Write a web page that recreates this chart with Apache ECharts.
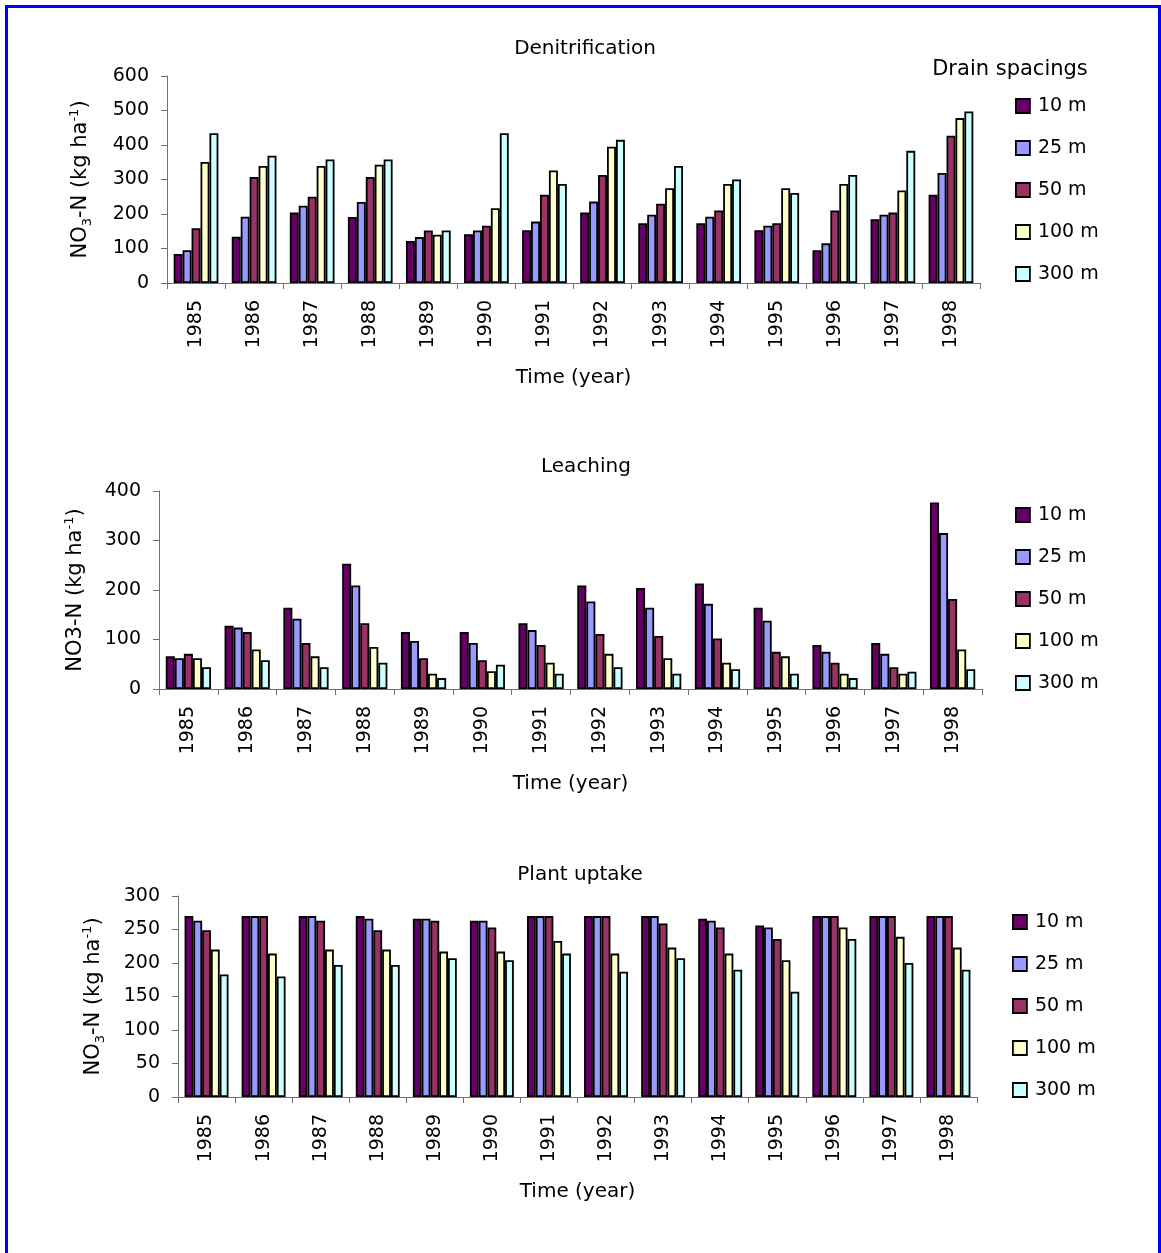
<!DOCTYPE html>
<html>
<head>
<meta charset="utf-8">
<title>Nitrate balance by drain spacing</title>
<script src="https://cdn.jsdelivr.net/npm/echarts@6/dist/echarts.min.js"></script>
<style>
  html, body { margin: 0; padding: 0; background: #fff; }
  #chart { width: 1161px; height: 1253px; }
</style>
</head>
<body>
<div id="chart"></div>
<script>
// Years on the category axis
const years = ['1985', '1986', '1987', '1988', '1989', '1990', '1991',
               '1992', '1993', '1994', '1995', '1996', '1997', '1998'];
// Drain spacings (one series per spacing)
const spacings = ['10 m', '25 m', '50 m', '100 m', '300 m'];
const spacingColors = ['#660066', '#9999FF', '#993366', '#FFFFCC', '#CCFFFF'];

// Denitrification, kg NO3-N per ha
const denit10  = [84, 134, 204, 191, 122, 141, 153, 204, 173, 173, 153, 95, 185, 256];
const denit25  = [95, 192, 224, 235, 133, 152, 178, 236, 198, 192, 166, 115, 198, 319];
const denit50  = [159, 307, 250, 307, 152, 166, 256, 313, 230, 210, 173, 210, 204, 427];
const denit100 = [351, 339, 339, 343, 140, 217, 326, 395, 275, 287, 275, 287, 268, 478];
const denit300 = [434, 369, 358, 358, 152, 434, 287, 415, 339, 300, 261, 313, 383, 497];

// Leaching, kg NO3-N per ha
const leach10  = [66, 128, 164, 253, 115, 115, 133, 209, 204, 213, 164, 89, 93, 377];
const leach25  = [62, 124, 142, 209, 97, 93, 119, 177, 164, 172, 138, 75, 71, 315];
const leach50  = [71, 115, 93, 133, 62, 58, 89, 111, 107, 102, 75, 53, 44, 182];
const leach100 = [62, 80, 66, 85, 31, 36, 53, 71, 62, 53, 66, 31, 31, 80];
const leach300 = [44, 58, 44, 53, 22, 49, 31, 44, 31, 40, 31, 22, 35, 40];

// Plant uptake, kg NO3-N per ha
const uptake10  = [270, 270, 270, 270, 266, 263, 270, 270, 270, 266, 256, 270, 270, 270];
const uptake25  = [263, 270, 270, 266, 266, 263, 270, 270, 270, 263, 253, 270, 270, 270];
const uptake50  = [249, 270, 263, 249, 263, 253, 270, 270, 259, 253, 236, 270, 270, 270];
const uptake100 = [220, 214, 220, 220, 217, 217, 233, 214, 223, 214, 204, 253, 239, 223];
const uptake300 = [183, 180, 197, 197, 207, 204, 214, 187, 207, 190, 157, 236, 200, 190];

// Y-axis ranges
const denitAxis  = { max: 600, step: 100 };
const leachAxis  = { max: 400, step: 100 };
const uptakeAxis = { max: 300, step: 50 };

const FONT = 'DejaVu Sans';
const AXIS_COLOR = '#707070';

const panels = [
  {
    title: 'Denitrification', titleX: 585, titleY: 39,
    grid: { left: 167, top: 76, right: 181, height: 207 },
    axis: denitAxis, yName: '{n|NO}{sub|3}{n|-N (kg ha}{sup|-1}{n|)}', yGap: 73,
    legendLeft: 1015, legendTop: 92,
    values: [denit10, denit25, denit50, denit100, denit300]
  },
  {
    title: 'Leaching', titleX: 586, titleY: 457,
    grid: { left: 159, top: 491, right: 179, height: 198 },
    axis: leachAxis, yName: '{n|NO3-N (kg ha}{sup|-1}{n|)}', yGap: 70,
    legendLeft: 1015, legendTop: 501,
    values: [leach10, leach25, leach50, leach100, leach300]
  },
  {
    title: 'Plant uptake', titleX: 580, titleY: 865,
    grid: { left: 178, top: 896, right: 184, height: 201 },
    axis: uptakeAxis, yName: '{n|NO}{sub|3}{n|-N (kg ha}{sup|-1}{n|)}', yGap: 71,
    legendLeft: 1012, legendTop: 908,
    values: [uptake10, uptake25, uptake50, uptake100, uptake300]
  }
];

const nameRich = {
  n:   { fontFamily: FONT, fontSize: 21, color: '#000', lineHeight: 26 },
  sub: { fontFamily: FONT, fontSize: 13, color: '#000', lineHeight: 26, verticalAlign: 'bottom', padding: [8, 0, 0, 0] },
  sup: { fontFamily: FONT, fontSize: 13, color: '#000', lineHeight: 26, verticalAlign: 'top', padding: [0, 0, 8, 0] }
};

const option = {
  backgroundColor: '#fff',
  animation: false,
  textStyle: { fontFamily: FONT },
  title: panels.map(p => ({
    text: p.title, left: p.titleX, top: p.titleY, textAlign: 'center', padding: 0,
    textStyle: { fontFamily: FONT, fontSize: 20, fontWeight: 'normal', color: '#000' }
  })).concat([{
    text: 'Drain spacings', left: 1010, top: 59, textAlign: 'center', padding: 0,
    textStyle: { fontFamily: FONT, fontSize: 21, fontWeight: 'normal', color: '#000' }
  }]),
  legend: panels.map(p => ({
    data: spacings, orient: 'vertical', left: p.legendLeft, top: p.legendTop,
    padding: 0, itemGap: 14, itemWidth: 14, itemHeight: 14, icon: 'rect',
    selectedMode: false,
    itemStyle: { borderColor: '#000', borderWidth: 1.8 },
    textStyle: { fontFamily: FONT, fontSize: 19, color: '#000', lineHeight: 20, padding: [0, 0, 8, 3] }
  })),
  grid: panels.map(p => Object.assign({ containLabel: false }, p.grid)),
  xAxis: panels.map((p, i) => ({
    type: 'category', gridIndex: i, data: years,
    name: 'Time (year)', nameLocation: 'middle', nameGap: 85,
    nameTextStyle: { fontFamily: FONT, fontSize: 20, color: '#000' },
    axisLine: { show: true, lineStyle: { color: AXIS_COLOR, width: 1 } },
    axisTick: { show: true, interval: 0, length: 6, lineStyle: { color: AXIS_COLOR } },
    axisLabel: { interval: 0, rotate: 90, margin: 17, fontFamily: FONT, fontSize: 19, color: '#000' }
  })),
  yAxis: panels.map((p, i) => ({
    type: 'value', gridIndex: i, min: 0, max: p.axis.max, interval: p.axis.step,
    name: p.yName, nameLocation: 'middle', nameRotate: 90, nameGap: p.yGap,
    nameTextStyle: { rich: nameRich },
    axisLine: { show: true, lineStyle: { color: AXIS_COLOR, width: 1 } },
    axisTick: { show: true, length: 6, lineStyle: { color: AXIS_COLOR } },
    splitLine: { show: false },
    axisLabel: { margin: 18, fontFamily: FONT, fontSize: 19, color: '#000' }
  })),
  series: [],
  graphic: [{
    type: 'rect', silent: true, z: 100,
    shape: { x: 6.5, y: 6.5, width: 1153, height: 1300 },
    style: { fill: 'none', stroke: '#0000FF', lineWidth: 3 }
  }]
};

panels.forEach((p, i) => {
  p.values.forEach((vals, k) => {
    option.series.push({
      type: 'bar', name: spacings[k], xAxisIndex: i, yAxisIndex: i,
      data: vals, barGap: '0%', barCategoryGap: '23%',
      itemStyle: { color: spacingColors[k], borderColor: '#000', borderWidth: 1.8 }
    });
  });
});

const chart = echarts.init(document.getElementById('chart'), null, { renderer: 'canvas' });
chart.setOption(option);
</script>
</body>
</html>
